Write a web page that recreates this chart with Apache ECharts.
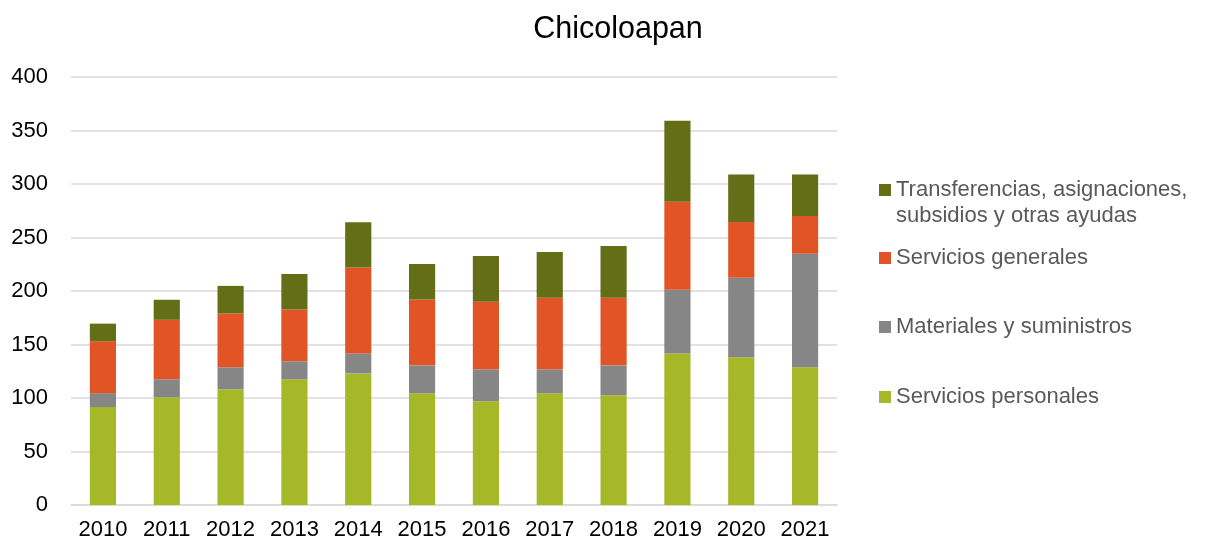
<!DOCTYPE html>
<html>
<head>
<meta charset="utf-8">
<script src="https://cdn.jsdelivr.net/npm/echarts@6/dist/echarts.min.js"></script>
<style>
  html, body { margin: 0; padding: 0; background: #fff; }
  #chart { width: 1223px; height: 547px; }
</style>
</head>
<body>
<div id="chart"></div>
<script>
// años
const years = ['2010', '2011', '2012', '2013', '2014', '2015', '2016', '2017', '2018', '2019', '2020', '2021'];

// valores de cada capítulo de gasto
const serviciosPersonales = [91.5, 100.7, 108.2, 117.5, 123, 104.4, 97, 104.4, 102.6, 141.7, 138, 128.7];
const materiales = [13, 16.8, 20.5, 16.8, 18.7, 26.1, 29.8, 22.4, 27.9, 59.4, 74.3, 106];
const serviciosGenerales = [48.5, 55.6, 50.3, 48.5, 80.2, 61.6, 63.1, 66.8, 63.1, 82.3, 52.2, 35.4];
const transferencias = [16.5, 18.7, 25.8, 33.2, 42.3, 33.2, 42.9, 42.9, 48.5, 75.6, 44.4, 38.8];

const yTicks = [0, 50, 100, 150, 200, 250, 300, 350, 400];

const names = [
  'Transferencias, asignaciones,\nsubsidios y otras ayudas',
  'Servicios generales',
  'Materiales y suministros',
  'Servicios personales'
];
const colors = ['#646e17', '#e05426', '#868686', '#a6b728'];

const font = 'Liberation Sans, Arial, sans-serif';
const LH = 26;

// una leyenda por elemento para poder fijar la altura de cada uno
function legendAt(i, top, formatter) {
  return {
    data: [names[i]],
    left: 879,
    top: top,
    orient: 'vertical',
    padding: 0,
    itemWidth: 12,
    itemHeight: 12,
    icon: 'rect',
    selectedMode: false,
    formatter: formatter,
    textStyle: {
      fontFamily: font,
      fontSize: 22,
      color: '#595959',
      lineHeight: LH
    }
  };
}

const chart = echarts.init(document.getElementById('chart'));

function bar(name, data, color) {
  return {
    name: name,
    type: 'bar',
    stack: 'total',
    data: data,
    barWidth: '41%',
    itemStyle: { color: color },
    emphasis: { disabled: true }
  };
}

chart.setOption({
  animation: false,
  title: {
    text: 'Chicoloapan',
    left: 613,
    top: 9,
    textAlign: 'center',
    textStyle: { fontFamily: font, fontSize: 30.5, fontWeight: 'normal', color: '#000' }
  },
  legend: [
    // línea vacía arriba para que el icono quede junto a la primera línea
    legendAt(0, 190 - LH * 1.5, name => '\n' + name),
    legendAt(1, 258 - LH / 2),
    legendAt(2, 327 - LH / 2),
    legendAt(3, 397 - LH / 2)
  ],
  grid: { left: 71, right: 386, top: 77, bottom: 42 },
  xAxis: {
    type: 'category',
    data: years,
    axisLine: { lineStyle: { color: '#d9d9d9', width: 1.5 } },
    axisTick: { show: false },
    axisLabel: { fontFamily: font, fontSize: 22, color: '#000', margin: 14 }
  },
  yAxis: {
    type: 'value',
    min: yTicks[0],
    max: yTicks[yTicks.length - 1],
    interval: yTicks[1] - yTicks[0],
    axisLine: { show: false },
    axisTick: { show: false },
    axisLabel: { fontFamily: font, fontSize: 22, color: '#000', margin: 23 },
    splitLine: { lineStyle: { color: '#d9d9d9', width: 1.5 } }
  },
  series: [
    bar('Servicios personales', serviciosPersonales, colors[3]),
    bar('Materiales y suministros', materiales, colors[2]),
    bar('Servicios generales', serviciosGenerales, colors[1]),
    bar(names[0], transferencias, colors[0])
  ]
});
</script>
</body>
</html>
